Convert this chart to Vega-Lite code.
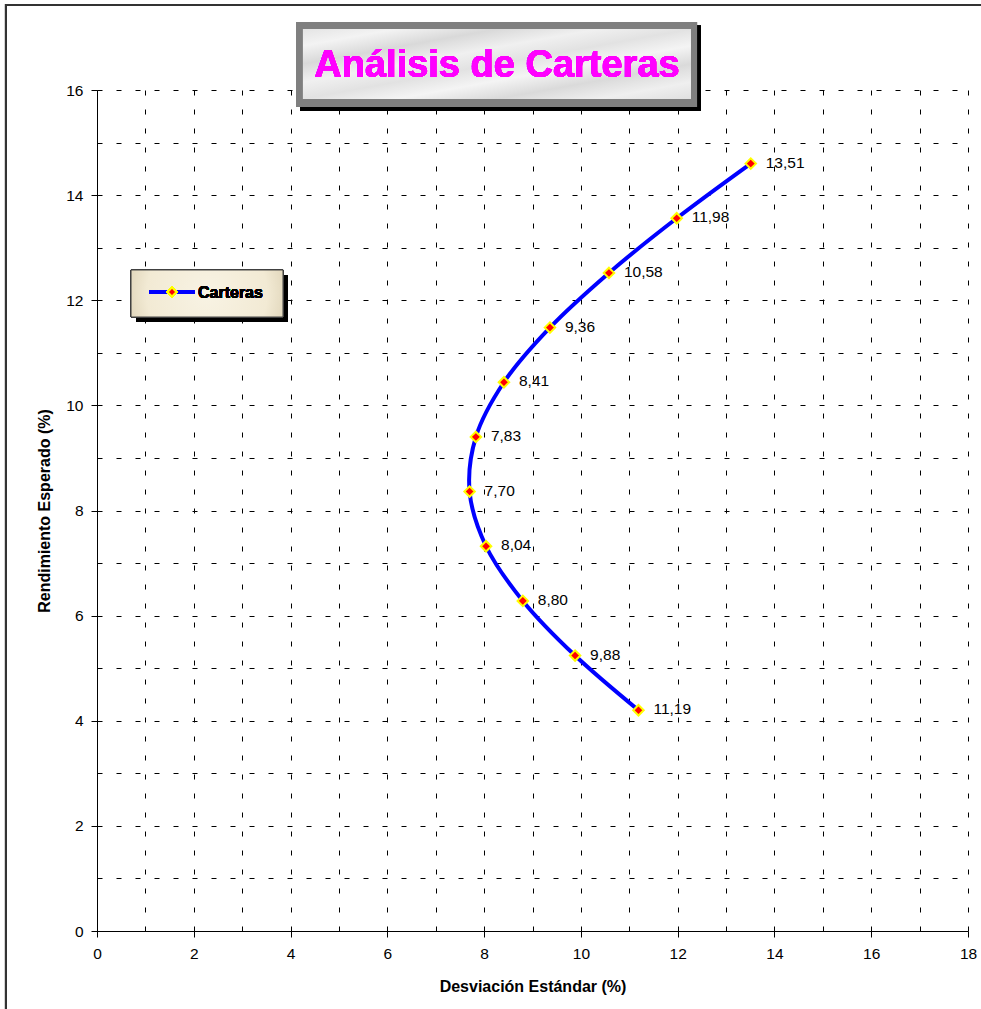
{
  "$schema": "https://vega.github.io/schema/vega-lite/v6.json",
  "width": 871,
  "height": 841,
  "autosize": {"type": "none"},
  "padding": {"left": 97, "top": 90, "right": 13, "bottom": 78},
  "background": "#ffffff",
  "config": {
    "view": {"stroke": null},
    "font": "Liberation Sans",
    "locale": {
      "number": {"decimal": ",", "thousands": ".", "grouping": [3], "currency": ["", " €"]}
    },
    "axis": {
      "domainColor": "#000000",
      "domainWidth": 1,
      "tickColor": "#000000",
      "tickSize": 6,
      "labelColor": "#000000",
      "labelFont": "Liberation Sans",
      "labelFontSize": 15.5,
      "labelFlush": false,
      "labelOverlap": false,
      "titleFont": "Liberation Sans",
      "titleFontSize": 16,
      "titleFontWeight": "bold",
      "titleColor": "#000000",
      "grid": true,
      "gridColor": "#000000",
      "gridWidth": 1,
      "gridOpacity": 1,
      "gridDash": [5, 14]
    }
  },
  "data": {
    "values": [
      {"sd": 11.19, "ret": 4.20},
      {"sd": 9.88, "ret": 5.24},
      {"sd": 8.80, "ret": 6.28},
      {"sd": 8.04, "ret": 7.32},
      {"sd": 7.70, "ret": 8.36},
      {"sd": 7.83, "ret": 9.40},
      {"sd": 8.41, "ret": 10.44},
      {"sd": 9.36, "ret": 11.48},
      {"sd": 10.58, "ret": 12.52},
      {"sd": 11.98, "ret": 13.56},
      {"sd": 13.51, "ret": 14.60}
    ]
  },
  "layer": [
    {
      "mark": {"type": "line", "color": "#0000ff", "strokeWidth": 4, "interpolate": "catmull-rom"},
      "encoding": {
        "x": {
          "field": "sd",
          "type": "quantitative",
          "title": "Desviación Estándar (%)",
          "scale": {"domain": [0, 18], "nice": false, "zero": false},
          "axis": {
            "values": [0, 1, 2, 3, 4, 5, 6, 7, 8, 9, 10, 11, 12, 13, 14, 15, 16, 17, 18],
            "labelExpr": "datum.value % 2 == 0 ? datum.label : ''",
            "tickOpacity": {"condition": {"test": "datum.value % 2 == 0", "value": 1}, "value": 0},
            "labelPadding": 9,
            "titlePadding": 17
          }
        },
        "y": {
          "field": "ret",
          "type": "quantitative",
          "title": "Rendimiento Esperado (%)",
          "scale": {"domain": [0, 16], "nice": false, "zero": false},
          "axis": {
            "values": [0, 1, 2, 3, 4, 5, 6, 7, 8, 9, 10, 11, 12, 13, 14, 15, 16],
            "labelExpr": "datum.value % 2 == 0 ? datum.label : ''",
            "tickOpacity": {"condition": {"test": "datum.value % 2 == 0", "value": 1}, "value": 0},
            "labelPadding": 8,
            "titlePadding": 13
          }
        },
        "order": {"field": "ret", "type": "quantitative"}
      }
    },
    {
      "mark": {"type": "point", "shape": "diamond", "filled": true, "fill": "#ff0000", "stroke": "#ffff00", "strokeWidth": 2, "size": 110, "opacity": 1},
      "encoding": {
        "x": {"field": "sd", "type": "quantitative"},
        "y": {"field": "ret", "type": "quantitative"}
      }
    },
    {
      "mark": {"type": "text", "align": "left", "baseline": "middle", "dx": 15, "dy": -1, "fontSize": 15.5, "color": "#000000"},
      "encoding": {
        "x": {"field": "sd", "type": "quantitative"},
        "y": {"field": "ret", "type": "quantitative"},
        "text": {"field": "sd", "type": "quantitative", "format": ".2f"}
      }
    },
    {
      "mark": {"type": "rect", "fill": null, "stroke": "#333333", "strokeWidth": 2, "clip": false},
      "encoding": {
        "x": {"datum": -1.881},
        "x2": {"datum": 20},
        "y": {"datum": 17.617},
        "y2": {"datum": -3}
      }
    },
    {
      "mark": {"type": "rect", "fill": "#000000", "clip": false},
      "encoding": {
        "x": {"datum": 4.2},
        "x2": {"datum": 12.48},
        "y": {"datum": 17.22},
        "y2": {"datum": 15.6}
      }
    },
    {
      "mark": {"type": "rect", "fill": "#7f7f7f", "clip": false},
      "encoding": {
        "x": {"datum": 4.113},
        "x2": {"datum": 12.4},
        "y": {"datum": 17.294},
        "y2": {"datum": 15.677}
      }
    },
    {
      "mark": {
        "type": "rect",
        "clip": false,
        "fill": {
          "gradient": "linear",
          "x1": 0, "y1": 0, "x2": 1, "y2": 1,
          "stops": [
            {"offset": 0, "color": "#e4e4e4"},
            {"offset": 0.12, "color": "#f3f3f3"},
            {"offset": 0.25, "color": "#d9d9d9"},
            {"offset": 0.38, "color": "#f0f0f0"},
            {"offset": 0.5, "color": "#e2e2e2"},
            {"offset": 0.62, "color": "#f4f4f4"},
            {"offset": 0.75, "color": "#dadada"},
            {"offset": 0.88, "color": "#efefef"},
            {"offset": 1, "color": "#e0e0e0"}
          ]
        }
      },
      "encoding": {
        "x": {"datum": 4.257},
        "x2": {"datum": 12.275},
        "y": {"datum": 17.16},
        "y2": {"datum": 15.83}
      }
    },
    {
      "mark": {"type": "text", "text": "Análisis de Carteras", "align": "center", "baseline": "alphabetic", "fontSize": 38, "fontWeight": "bold", "color": "#ff00ff", "clip": false},
      "encoding": {
        "x": {"datum": 8.266},
        "y": {"datum": 16.25}
      }
    },
    {
      "mark": {"type": "rect", "fill": "#000000", "clip": false},
      "encoding": {
        "x": {"datum": 0.806},
        "x2": {"datum": 3.947},
        "y": {"datum": 12.48},
        "y2": {"datum": 11.586}
      }
    },
    {
      "mark": {
        "type": "rect",
        "clip": false,
        "stroke": "#404040",
        "strokeWidth": 1,
        "fill": {
          "gradient": "radial",
          "x1": 0.5, "y1": 0.5, "r1": 0,
          "x2": 0.5, "y2": 0.5, "r2": 0.72,
          "stops": [
            {"offset": 0, "color": "#f8f3e4"},
            {"offset": 0.55, "color": "#f2ead4"},
            {"offset": 1, "color": "#c9bb98"}
          ]
        }
      },
      "encoding": {
        "x": {"datum": 0.703},
        "x2": {"datum": 3.844},
        "y": {"datum": 12.576},
        "y2": {"datum": 11.681}
      }
    },
    {
      "mark": {"type": "rule", "color": "#0000ff", "strokeWidth": 4, "clip": false},
      "encoding": {
        "x": {"datum": 1.075},
        "x2": {"datum": 2.025},
        "y": {"datum": 12.157}
      }
    },
    {
      "mark": {"type": "point", "shape": "diamond", "filled": true, "fill": "#ff0000", "stroke": "#ffff00", "strokeWidth": 2, "size": 80, "opacity": 1, "clip": false},
      "encoding": {
        "x": {"datum": 1.55},
        "y": {"datum": 12.157}
      }
    },
    {
      "mark": {"type": "text", "text": "Carteras", "align": "left", "baseline": "middle", "fontSize": 16, "fontWeight": "bold", "color": "#000000", "clip": false},
      "encoding": {
        "x": {"datum": 2.087},
        "y": {"datum": 12.14}
      }
    }
  ]
}
